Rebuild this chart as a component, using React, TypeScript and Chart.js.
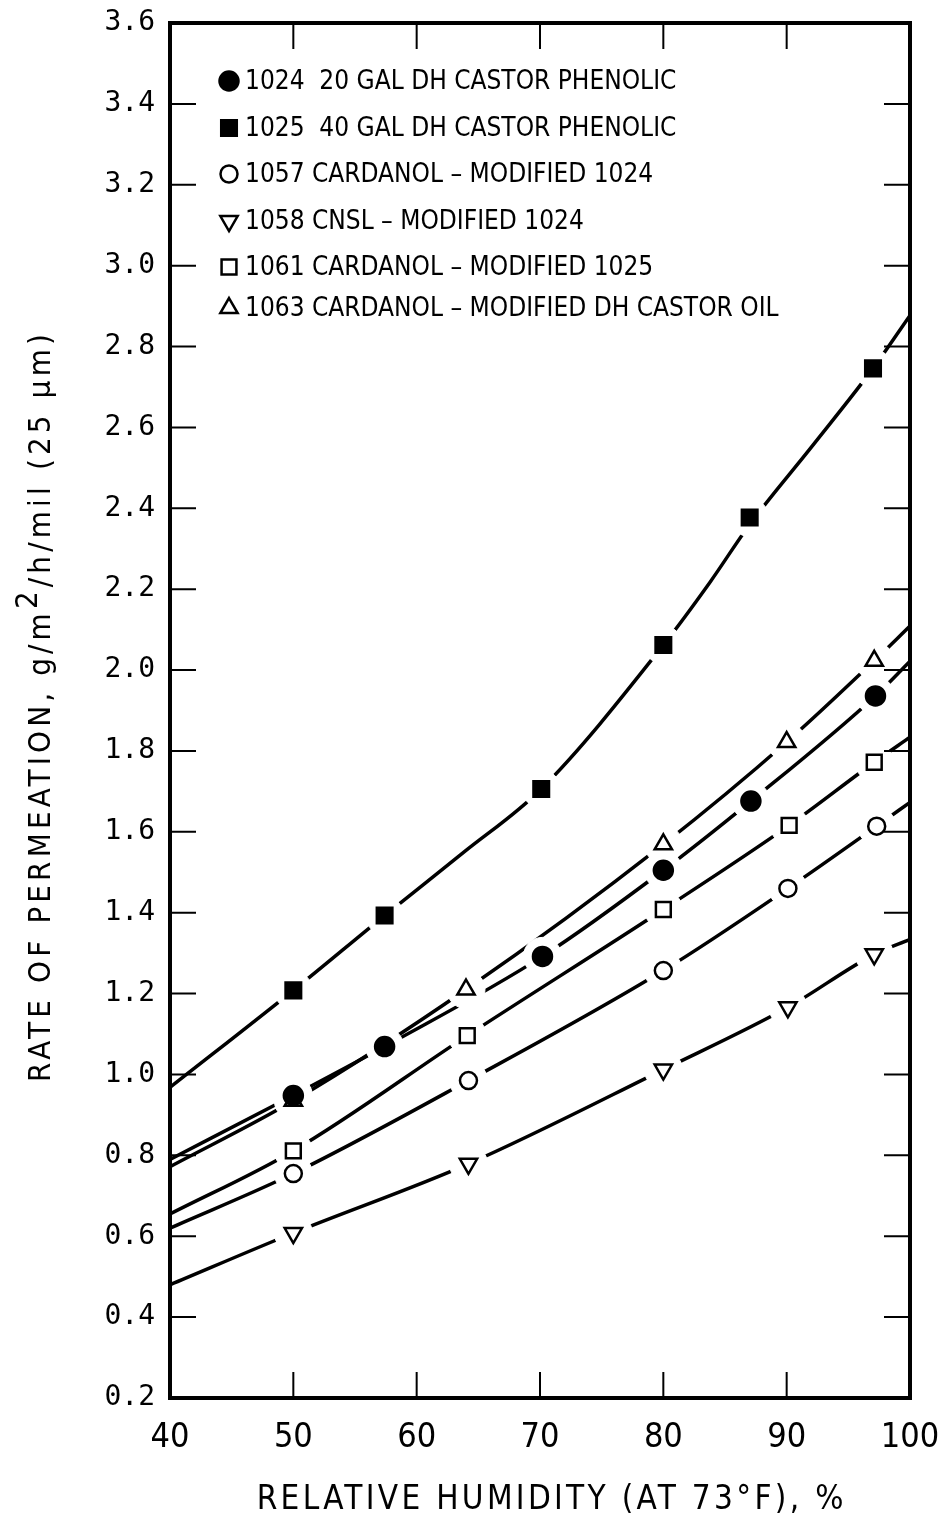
import React, { useEffect, useRef } from 'react';
import { Chart, registerables } from 'chart.js';
Chart.register(...registerables);

// ---- axis ----
const xMin = 40;
const xMax = 100;
const xStep = 10;
const yMin = 0.2;
const yMax = 3.6;
const yStep = 0.2;
const xTitle = 'RELATIVE HUMIDITY (AT 73°F), %';
const yTitleParts = ['RATE OF PERMEATION, g/m', '2', '/h/mil (25 μm)'];

// ---- legend labels ----
const labels = [
  '1024  20 GAL DH CASTOR PHENOLIC',
  '1025  40 GAL DH CASTOR PHENOLIC',
  '1057 CARDANOL – MODIFIED 1024',
  '1058 CNSL – MODIFIED 1024',
  '1061 CARDANOL – MODIFIED 1025',
  '1063 CARDANOL – MODIFIED DH CASTOR OIL',
];

// ---- measured points (markers) ----
const x1024 = [50, 57.4, 70.2, 80, 87.1, 97.2];
const y1024 = [0.948, 1.069, 1.292, 1.505, 1.676, 1.936];
const x1025 = [50, 57.4, 70.1, 80, 87, 97];
const y1025 = [1.208, 1.393, 1.706, 2.062, 2.377, 2.746];
const x1057 = [50, 64.2, 80, 90.1, 97.3];
const y1057 = [0.755, 0.985, 1.257, 1.46, 1.614];
const x1058 = [50, 64.2, 80, 90.1, 97.1];
const y1058 = [0.608, 0.779, 1.012, 1.166, 1.297];
const x1061 = [50, 64.1, 80, 90.2, 97.1];
const y1061 = [0.811, 1.096, 1.408, 1.616, 1.772];
const x1063 = [50, 64, 80, 90, 97.1];
const y1063 = [0.935, 1.21, 1.569, 1.822, 2.023];

// ---- drawn curves ----
const cx1024 = [40, 50, 57.4, 70.2, 80, 87.1, 97.2, 100];
const cy1024 = [0.79, 0.948, 1.069, 1.292, 1.505, 1.676, 1.936, 2.022];
const cx1025 = [40, 50, 57.4, 63.8, 70.1, 80, 83.8, 87, 92.1, 97, 100];
const cy1025 = [0.968, 1.208, 1.393, 1.549, 1.706, 2.062, 2.218, 2.36, 2.555, 2.746, 2.877];
const cx1057 = [40, 50, 64.2, 80, 90.1, 97.3, 100];
const cy1057 = [0.62, 0.755, 0.985, 1.257, 1.46, 1.614, 1.673];
const cx1058 = [40, 50, 64.2, 80, 90.1, 97.1, 100];
const cy1058 = [0.48, 0.608, 0.779, 1.012, 1.166, 1.297, 1.334];
const cx1061 = [40, 50, 64.1, 80, 90.2, 97.1, 100];
const cy1061 = [0.655, 0.811, 1.096, 1.408, 1.616, 1.772, 1.834];
const cx1063 = [40, 50, 64, 80, 90, 97.1, 100];
const cy1063 = [0.772, 0.935, 1.21, 1.569, 1.822, 2.023, 2.109];

type S = { xs: number[]; ys: number[]; cx: number[]; cy: number[]; style: string; filled: boolean; radius: number; rotation: number };
const series: S[] = [
  { xs: x1024, ys: y1024, cx: cx1024, cy: cy1024, style: 'circle', filled: true, radius: 9.5, rotation: 0 },
  { xs: x1025, ys: y1025, cx: cx1025, cy: cy1025, style: 'rect', filled: true, radius: 11, rotation: 0 },
  { xs: x1057, ys: y1057, cx: cx1057, cy: cy1057, style: 'circle', filled: false, radius: 8.5, rotation: 0 },
  { xs: x1058, ys: y1058, cx: cx1058, cy: cy1058, style: 'triangle', filled: false, radius: 10, rotation: 180 },
  { xs: x1061, ys: y1061, cx: cx1061, cy: cy1061, style: 'rect', filled: false, radius: 10.5, rotation: 0 },
  { xs: x1063, ys: y1063, cx: cx1063, cy: cy1063, style: 'triangle', filled: false, radius: 10, rotation: 0 },
];

const NARROW = "'Liberation Sans Narrow', 'DejaVu Sans Condensed', 'Liberation Sans', sans-serif";
const HALO = '#ffffff';

function drawMarker(ctx: CanvasRenderingContext2D, s: S, x: number, y: number) {
  ctx.save();
  ctx.lineWidth = 2.5;
  ctx.strokeStyle = '#000';
  ctx.fillStyle = s.filled ? '#000' : '#fff';
  ctx.beginPath();
  const r = s.radius;
  if (s.style === 'circle') {
    ctx.arc(x, y, r, 0, Math.PI * 2);
  } else if (s.style === 'rect') {
    const h = r * Math.SQRT1_2;
    ctx.rect(x - h, y - h, 2 * h, 2 * h);
  } else {
    const dir = s.rotation === 180 ? -1 : 1;
    const w = (r * Math.sqrt(3)) / 2;
    ctx.moveTo(x, y - dir * r);
    ctx.lineTo(x + w, y + (dir * r) / 2);
    ctx.lineTo(x - w, y + (dir * r) / 2);
    ctx.closePath();
  }
  ctx.fill();
  ctx.stroke();
  ctx.restore();
}

const decorPlugin = {
  id: 'decor',
  afterDraw(chart: any) {
    const ctx: CanvasRenderingContext2D = chart.ctx;
    const { left, right, top, bottom } = chart.chartArea;
    const xs = chart.scales.x;
    const ys = chart.scales.y;
    ctx.save();
    ctx.strokeStyle = '#000';
    ctx.lineWidth = 2;
    const tl = 26;
    ys.ticks.forEach((t: any) => {
      const py = ys.getPixelForValue(t.value);
      if (Math.abs(py - top) < 2 || Math.abs(py - bottom) < 2) return;
      ctx.beginPath();
      ctx.moveTo(left, py);
      ctx.lineTo(left + tl, py);
      ctx.moveTo(right - tl, py);
      ctx.lineTo(right, py);
      ctx.stroke();
    });
    xs.ticks.forEach((t: any) => {
      const px = xs.getPixelForValue(t.value);
      if (Math.abs(px - left) < 2 || Math.abs(px - right) < 2) return;
      ctx.beginPath();
      ctx.moveTo(px, top);
      ctx.lineTo(px, top + tl);
      ctx.moveTo(px, bottom - tl);
      ctx.lineTo(px, bottom);
      ctx.stroke();
    });
    ctx.lineWidth = 4;
    ctx.strokeRect(left, top, right - left, bottom - top);

    // legend
    const rowY = [81, 128, 174, 221, 267, 308];
    ctx.font = `26px ${NARROW}`;
    ctx.fillStyle = '#000';
    ctx.textBaseline = 'middle';
    ctx.textAlign = 'left';
    series.forEach((s, i) => {
      drawMarker(ctx, s, 229, rowY[i]);
      ctx.fillText(labels[i], 245, rowY[i] + 1);
    });

    // x title
    ctx.font = `33px ${NARROW}`;
    (ctx as any).letterSpacing = '0px';
    const w0 = ctx.measureText(xTitle).width;
    const lsX = (590 - w0) / xTitle.length;
    (ctx as any).letterSpacing = `${lsX}px`;
    ctx.textAlign = 'center';
    ctx.textBaseline = 'middle';
    ctx.fillText(xTitle, 550 + lsX / 2, 1500);

    // y title
    ctx.translate(42, 706);
    ctx.rotate(-Math.PI / 2);
    ctx.textAlign = 'left';
    ctx.font = `31px ${NARROW}`;
    (ctx as any).letterSpacing = '0px';
    const n = yTitleParts.join('').length;
    const wy0 = yTitleParts.reduce((a, p) => a + ctx.measureText(p).width, 0);
    const lsY = (752 - wy0) / n;
    (ctx as any).letterSpacing = `${lsY}px`;
    const total = yTitleParts.reduce((a, p) => a + ctx.measureText(p).width, 0);
    let cxp = -total / 2;
    yTitleParts.forEach((p, i) => {
      const dy = i === 1 ? -13 : 0;
      ctx.fillText(p, cxp, dy);
      cxp += ctx.measureText(p).width;
    });
    ctx.restore();
  },
};

export default function App() {
  const ref = useRef<HTMLCanvasElement | null>(null);
  useEffect(() => {
    if (!ref.current) return;
    const lines: any[] = [];
    const halos: any[] = [];
    const marks: any[] = [];
    series.forEach((s, i) => {
      lines.push({
        label: labels[i] + ' curve',
        data: s.cx.map((x, j) => ({ x, y: s.cy[j] })),
        showLine: true,
        borderColor: '#000',
        borderWidth: 3.5,
        pointRadius: 0,
        pointHoverRadius: 0,
        cubicInterpolationMode: 'monotone',
        fill: false,
        order: 30,
      });
      halos.push({
        label: labels[i] + ' gap',
        data: s.xs.map((x, j) => ({ x, y: s.ys[j] })),
        showLine: false,
        pointStyle: 'circle',
        pointRadius: 19,
        pointBackgroundColor: HALO,
        pointBorderColor: HALO,
        pointBorderWidth: 1,
        order: 20,
      });
      marks.push({
        label: labels[i],
        data: s.xs.map((x, j) => ({ x, y: s.ys[j] })),
        showLine: false,
        pointStyle: s.style,
        pointRadius: s.radius,
        pointRotation: s.rotation,
        pointBackgroundColor: s.filled ? '#000' : '#fff',
        pointBorderColor: '#000',
        pointBorderWidth: 2.5,
        order: 10,
      });
    });
    const chart = new Chart(ref.current, {
      type: 'scatter',
      data: { datasets: [...lines, ...halos, ...marks] },
      options: {
        responsive: false,
        animation: false,
        devicePixelRatio: 1,
        layout: { padding: { top: 23, right: 36, left: 0, bottom: 0 } },
        plugins: { legend: { display: false }, tooltip: { enabled: false }, title: { display: false } },
        scales: {
          x: {
            type: 'linear',
            min: xMin,
            max: xMax,
            ticks: {
              stepSize: xStep,
              color: '#000',
              padding: 20,
              font: { family: NARROW, size: 34 },
            },
            grid: { display: false, drawTicks: false },
            border: { display: false },
            afterFit: (sc: any) => { sc.height = 128; sc.paddingLeft = 0; sc.paddingRight = 0; },
          },
          y: {
            type: 'linear',
            min: yMin,
            max: yMax,
            ticks: {
              stepSize: yStep,
              color: '#000',
              padding: 15,
              font: { family: "'DejaVu Sans Mono', monospace", size: 28 },
              callback: (v: any) => Number(v).toFixed(1),
            },
            grid: { display: false, drawTicks: false },
            border: { display: false },
            afterFit: (sc: any) => { sc.width = 170; sc.paddingTop = 0; sc.paddingBottom = 0; },
          },
        },
      },
      plugins: [decorPlugin],
    });
    return () => chart.destroy();
  }, []);
  return (
    <div style={{ position: 'absolute', left: 0, top: 0, width: 946, height: 1526, background: '#fff' }}>
      <canvas ref={ref} width={946} height={1526} />
    </div>
  );
}
